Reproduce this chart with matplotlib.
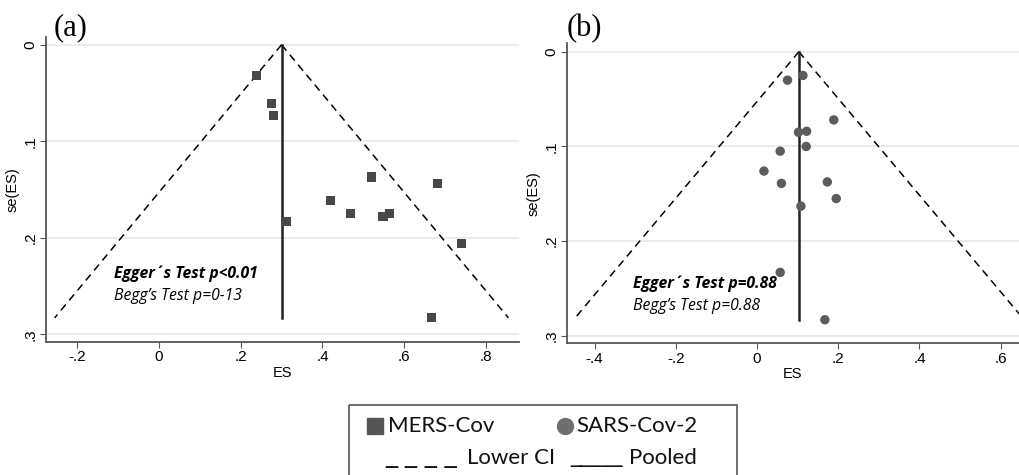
import numpy as np
import matplotlib.pyplot as plt
from matplotlib.patches import Rectangle

# data (a) MERS-Cov
mers_es = [0.238, 0.276, 0.280, 0.311, 0.420, 0.469, 0.520, 0.548, 0.563, 0.682, 0.740, 0.667]
mers_se = [0.032, 0.061, 0.073, 0.183, 0.161, 0.175, 0.137, 0.178, 0.175, 0.144, 0.206, 0.283]
mers_pooled = 0.30

# data (b) SARS-Cov-2
sars_es = [0.075, 0.113, 0.189, 0.102, 0.122, 0.121, 0.057, 0.017, 0.060, 0.173, 0.195, 0.108, 0.057, 0.167]
sars_se = [0.030, 0.025, 0.072, 0.085, 0.084, 0.100, 0.105, 0.126, 0.139, 0.1375, 0.155, 0.163, 0.233, 0.283]
sars_pooled = 0.103

se_max = 0.283
a_xticks = [-0.2, 0, 0.2, 0.4, 0.6, 0.8]
a_xlabels = ['-.2', '0', '.2', '.4', '.6', '.8']
b_xticks = [-0.4, -0.2, 0, 0.2, 0.4, 0.6]
b_xlabels = ['-.4', '-.2', '0', '.2', '.4', '.6']
yticks = [0, 0.1, 0.2, 0.3]
ylabels = ['0', '.1', '.2', '.3']

fig = plt.figure(figsize=(10.19, 4.75), dpi=100)
ax_a = fig.add_axes([0.0451, 0.280, 0.464, 0.642])
ax_b = fig.add_axes([0.556, 0.277, 0.444, 0.632])


def funnel(ax, es, se, pooled, marker, color, size, xlim, ylim_top, xticks, xlabels):
    ax.set_xlim(*xlim)
    ax.set_ylim(0.308, ylim_top)
    for y in yticks:
        ax.axhline(y, color='#e8e8e8', lw=1.2, zorder=0)
    s = np.linspace(0, se_max, 2)
    ax.plot(pooled - 1.96 * s, s, color='black', lw=1.1, ls=(0, (5, 3.5)))
    ax.plot(pooled + 1.96 * s, s, color='black', lw=1.1, ls=(0, (5, 3.5)))
    ax.plot([pooled, pooled], [0, se_max], color='#222222', lw=1.8)
    ax.scatter(es, se, marker=marker, s=size, color=color, edgecolors='none', zorder=3)
    ax.spines['top'].set_visible(False)
    ax.spines['right'].set_visible(False)
    ax.spines['left'].set_color('#555555')
    ax.spines['bottom'].set_color('#555555')
    ax.spines['left'].set_linewidth(1.3)
    ax.spines['bottom'].set_linewidth(1.3)
    ax.set_xticks(xticks)
    ax.set_xticklabels(xlabels, fontsize=11, family='Liberation Sans')
    ax.set_yticks(yticks)
    ax.set_yticklabels(ylabels, fontsize=11, family='Liberation Sans', rotation=90, va='center')
    ax.tick_params(length=4, color='#555555', pad=2)
    ax.set_xlabel('ES', fontsize=10.5, family='Liberation Sans', labelpad=1)
    ax.set_ylabel('se(ES)', fontsize=10.5, family='Liberation Sans', labelpad=3)


funnel(ax_a, mers_es, mers_se, mers_pooled, 's', '#484848', 44,
       (-0.276, 0.88), -0.008, a_xticks, a_xlabels)
funnel(ax_b, sars_es, sars_se, sars_pooled, 'o', '#5c5c5c', 46,
       (-0.469, 0.645), -0.009, b_xticks, b_xlabels)

# test annotations
tfont = dict(fontsize=11.3, family='Open Sans', style='italic', va='center')
ax_a.text(-0.11, 0.237, 'Egger´s Test p<0.01', weight='bold', **tfont)
ax_a.text(-0.11, 0.260, 'Begg’s Test p=0-13', **tfont)
ax_b.text(-0.305, 0.245, 'Egger´s Test p=0.88', weight='bold', **tfont)
ax_b.text(-0.305, 0.268, 'Begg’s Test p=0.88', **tfont)

# panel letters
fig.text(0.053, 0.941, '(a)', fontsize=22, family='Liberation Serif', va='center')
fig.text(0.556, 0.939, '(b)', fontsize=22, family='Liberation Serif', va='center')

# legend box
leg = fig.add_axes([0, 0, 1, 1], zorder=-1)
leg.set_xlim(0, 1019)
leg.set_ylim(475, 0)
leg.axis('off')
leg.add_patch(Rectangle((349, 405), 388, 100, fill=False, ec='#555555', lw=1.2))
leg.plot([375], [426], marker='s', ms=11.5, color='#555555', ls='none')
leg.plot([565], [426], marker='o', ms=11.5, color='#6e6e6e', ls='none')
lfont = dict(fontsize=16, family='Lato', va='center', ha='left', color='#111111')
leg.text(388, 426, 'MERS-Cov', **lfont)
leg.text(576, 426, 'SARS-Cov-2', **lfont)
leg.text(467, 458, 'Lower CI', **lfont)
leg.text(629, 458, 'Pooled', **lfont)
leg.text(385, 462, '_ _ _ _', fontsize=17.5, family='DejaVu Sans', va='baseline', color='#111111')
leg.text(570, 462, '_____', fontsize=15, family='DejaVu Sans', va='baseline', color='#111111')

fig.savefig('out.png', dpi=100)
